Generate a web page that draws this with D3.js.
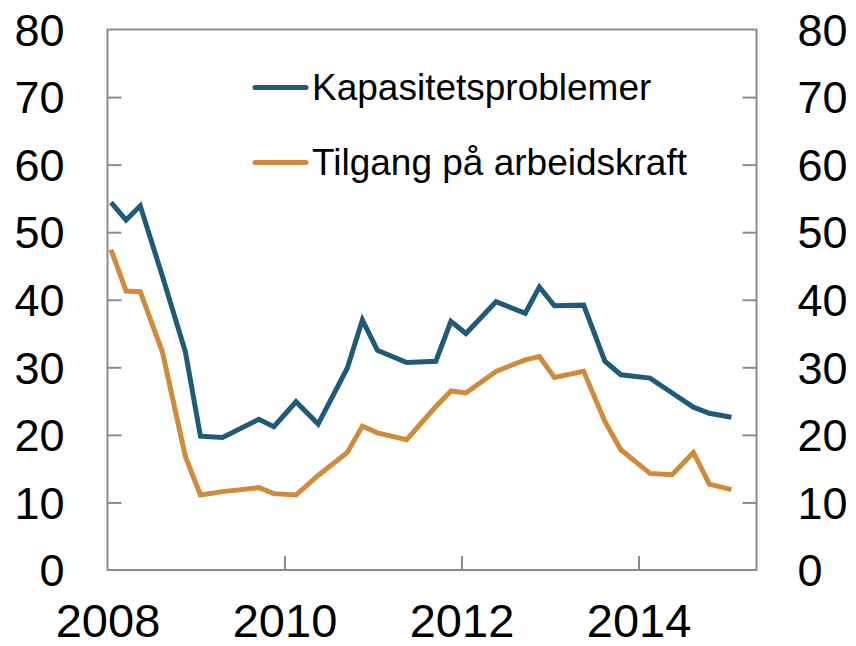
<!DOCTYPE html>
<html>
<head>
<meta charset="utf-8">
<script src="https://cdn.jsdelivr.net/npm/d3@7"></script>
<style>
  body { margin: 0; background: #fff; }
  svg { display: block; font-family: "Liberation Sans", Arial, sans-serif; }
</style>
</head>
<body>
<svg width="856" height="646"></svg>
<script>
// --- DATA ---
const dates = [2008.04, 2008.21, 2008.37, 2008.62, 2008.88, 2009.05, 2009.30, 2009.71, 2009.88, 2010.13,
               2010.38, 2010.71, 2010.88, 2011.05, 2011.38, 2011.71, 2011.88, 2012.05, 2012.39, 2012.72,
               2012.88, 2013.05, 2013.38, 2013.62, 2013.80, 2014.13, 2014.38, 2014.62, 2014.80, 2015.05];
const kapasitet = [54.4, 51.8, 53.9, 43.5, 32.3, 19.8, 19.6, 22.3, 21.2, 24.9,
                   21.6, 29.9, 37.0, 32.5, 30.7, 30.9, 36.8, 35.0, 39.7, 38.0,
                   41.9, 39.1, 39.2, 30.9, 28.9, 28.4, 26.2, 24.1, 23.2, 22.6];
const arbeidskraft = [47.4, 41.3, 41.2, 32.3, 16.8, 11.1, 11.6, 12.2, 11.3, 11.1,
                      14.0, 17.4, 21.3, 20.3, 19.3, 24.2, 26.5, 26.2, 29.4, 31.1,
                      31.6, 28.5, 29.4, 22.0, 17.8, 14.3, 14.1, 17.4, 12.7, 11.9];
const seriesNames = ['Kapasitetsproblemer', 'Tilgang på arbeidskraft'];
const seriesColors = ['#1f5a79', '#d08a3c'];
const xTicks = [2008, 2010, 2012, 2014];
const yTicks = [0, 10, 20, 30, 40, 50, 60, 70, 80];

// --- SETUP ---
const margin = { top: 29.5, right: 99.5, bottom: 76, left: 107.5 };
const width = 856, height = 646;
const svg = d3.select('svg');

const x = d3.scaleLinear().domain([2008, 2015.333]).range([margin.left, width - margin.right]);
const y = d3.scaleLinear().domain([0, 80]).range([height - margin.bottom, margin.top]);

const axisColor = '#8c8c8c';
const tickLen = 14;

// --- AXES ---
const bottomAxis = svg.append('g')
    .attr('transform', `translate(0,${y(0)})`)
    .call(d3.axisBottom(x).tickValues(xTicks).tickFormat(d3.format('d')).tickSizeInner(-tickLen).tickSizeOuter(0).tickPadding(34));
const leftAxis = svg.append('g')
    .attr('transform', `translate(${x.range()[0]},0)`)
    .call(d3.axisLeft(y).tickValues(yTicks).tickSizeInner(-tickLen).tickSizeOuter(0).tickPadding(43));
const rightAxis = svg.append('g')
    .attr('transform', `translate(${x.range()[1]},0)`)
    .call(d3.axisRight(y).tickValues(yTicks).tickSizeInner(-tickLen).tickSizeOuter(0).tickPadding(41));

[bottomAxis, leftAxis, rightAxis].forEach(g => {
    g.select('.domain').remove();
    g.selectAll('.tick line').attr('stroke', axisColor).attr('stroke-width', 2);
    g.selectAll('.tick text').attr('fill', '#000').attr('font-family', '"Liberation Sans", Arial, sans-serif');
});
leftAxis.selectAll('.tick text').attr('font-size', 45).attr('dy', '0.35em');
rightAxis.selectAll('.tick text').attr('font-size', 45).attr('dy', '0.35em');
bottomAxis.selectAll('.tick text').attr('font-size', 47);
// hide ticks on frame edges
leftAxis.selectAll('.tick line').filter(d => d === 0 || d === 80).remove();
rightAxis.selectAll('.tick line').filter(d => d === 0 || d === 80).remove();
bottomAxis.selectAll('.tick line').filter(d => d === 2008).remove();

// frame
svg.append('rect')
    .attr('x', x.range()[0])
    .attr('y', y(80))
    .attr('width', x.range()[1] - x.range()[0])
    .attr('height', y(0) - y(80))
    .attr('fill', 'none')
    .attr('stroke', axisColor)
    .attr('stroke-width', 2);

// --- LINES ---
const line = d3.line()
    .x(d => x(d[0]))
    .y(d => y(d[1]));

[kapasitet, arbeidskraft].forEach((vals, i) => {
    svg.append('path')
        .datum(dates.map((dt, j) => [dt, vals[j]]))
        .attr('fill', 'none')
        .attr('stroke', seriesColors[i])
        .attr('stroke-width', 5)
        .attr('stroke-linejoin', 'miter')
        .attr('d', line);
});

// --- LEGEND ---
const legend = svg.append('g');
seriesNames.forEach((name, i) => {
    const ly = 87.5 + i * 75;
    legend.append('line')
        .attr('x1', 255).attr('x2', 306)
        .attr('y1', ly).attr('y2', ly)
        .attr('stroke', seriesColors[i])
        .attr('stroke-width', 5)
        .attr('stroke-linecap', 'round');
    legend.append('text')
        .attr('x', 312)
        .attr('y', ly)
        .attr('dy', '0.35em')
        .attr('font-size', 37)
        .attr('fill', '#000')
        .text(name);
});
</script>
</body>
</html>
